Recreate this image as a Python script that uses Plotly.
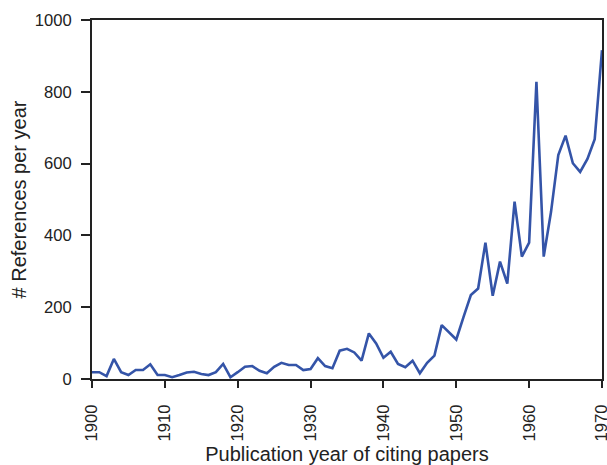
import plotly.graph_objects as go

years = list(range(1900, 1971))
refs = [19, 19, 8, 56, 19, 11, 25, 25, 41, 11,
        11, 5, 11, 18, 20, 14, 11, 19, 42, 5,
        19, 34, 36, 23, 16, 34, 45, 39, 39, 25,
        28, 58, 36, 30, 79, 84, 74, 51, 127, 99,
        59, 76, 42, 33, 51, 16, 45, 65, 150, 130,
        110, 173, 234, 252, 380, 232, 327, 266, 494, 341,
        380, 828, 341, 465, 624, 678, 601, 577, 613, 668,
        916]

x_ticks = list(range(1900, 1971, 10))
y_ticks = [0, 200, 400, 600, 800, 1000]

fig = go.Figure()
fig.add_trace(go.Scatter(x=years, y=refs, mode="lines",
                         line=dict(color="rgb(52,84,168)", width=2.6),
                         showlegend=False))

font = dict(family="Liberation Sans, Arial, sans-serif", size=16.6, color="#222222")
fig.update_layout(
    width=607, height=465,
    margin=dict(l=92, r=5, t=20, b=86, autoexpand=False),
    paper_bgcolor="white", plot_bgcolor="white",
    font=font,
    xaxis=dict(range=[1900, 1970], tickvals=x_ticks, tickangle=-90,
               showgrid=False, zeroline=False, showline=True, linecolor="#222222",
               linewidth=1.8, mirror=True, ticks="outside", ticklen=7, tickwidth=1.5,
               tickcolor="#222222", ticklabelstandoff=10, ticklabeloverflow="allow",
               title=dict(text="Publication year of citing papers", standoff=13)),
    yaxis=dict(range=[0, 1000], tickvals=y_ticks,
               showgrid=False, zeroline=False, showline=True, linecolor="#222222",
               linewidth=1.8, mirror=True, ticks="outside", ticklen=9, tickwidth=1.5,
               tickcolor="#222222", ticklabelstandoff=6, ticklabeloverflow="allow",
               title=dict(text="# References per year", standoff=3)),
)

fig.write_html("out.html",
               config={"displayModeBar": False},
               post_script="document.body.style.margin='0';"
                           "document.body.style.overflow='hidden';")
